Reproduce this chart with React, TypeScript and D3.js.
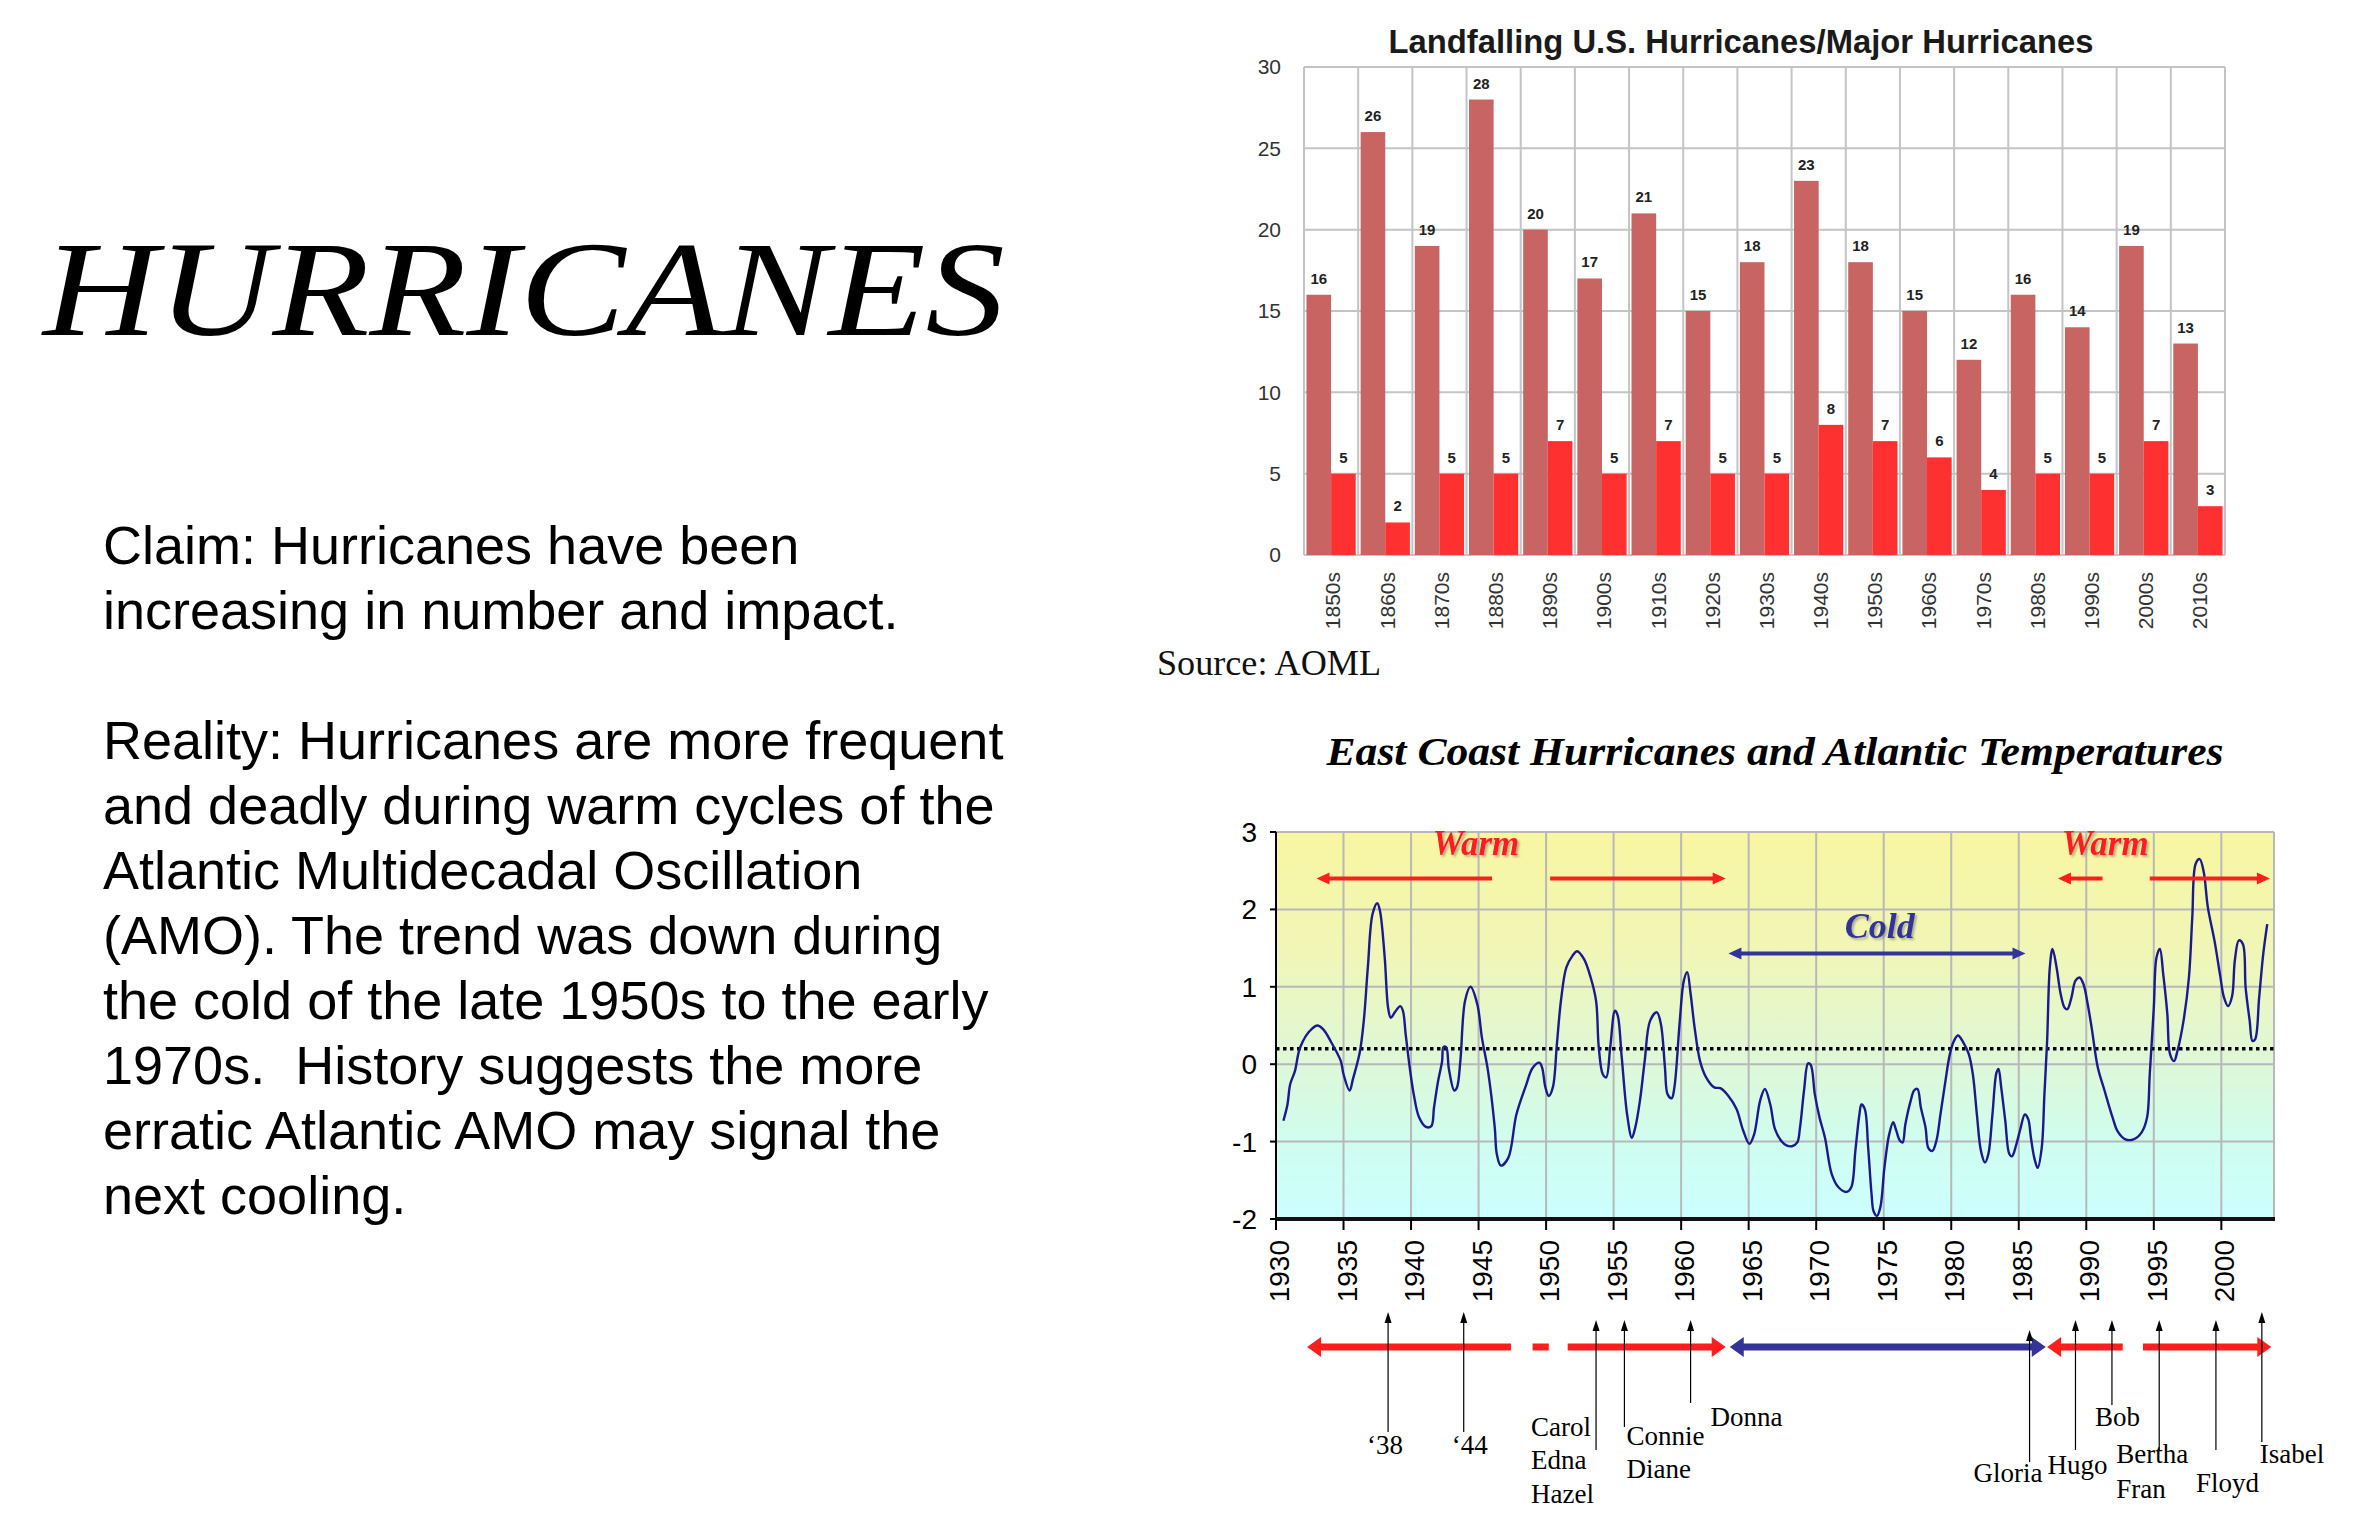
import React, { useEffect } from 'react';
import * as d3 from 'd3';

// ---------- Top chart data ----------
const decades = ['1850s','1860s','1870s','1880s','1890s','1900s','1910s','1920s','1930s','1940s','1950s','1960s','1970s','1980s','1990s','2000s','2010s'];
const allHurricanes = [16,26,19,28,20,17,21,15,18,23,18,15,12,16,14,19,13];
const majorHurricanes = [5,2,5,5,7,5,7,5,5,8,7,6,4,5,5,7,3];
const countTicks = [0,5,10,15,20,25,30];

// ---------- Bottom chart data (AMO) ----------
const amoYears = [
  1930.55,1930.85,1931.05,1931.4,1931.7,1932.0,1932.4,1933.05,1933.5,1934.1,1934.8,1935.0,1935.45,1935.7,1936.2,1936.5,1936.8,1937.15,1937.5,1937.7,
  1938.05,1938.3,1938.5,1938.8,1939.2,1939.4,1939.6,1939.9,1940.2,1940.6,1941.1,1941.5,1941.7,1942.0,1942.3,1942.4,1942.6,1942.8,1943.2,1943.4,
  1943.65,1944.0,1944.4,1944.9,1945.25,1945.7,1946.2,1946.35,1946.65,1947.2,1947.8,1948.5,1949.0,1949.5,1949.7,1949.95,1950.2,1950.5,1950.8,1951.1,
  1951.5,1951.95,1952.3,1952.8,1953.3,1953.7,1953.9,1954.2,1954.45,1954.75,1955.1,1955.3,1955.6,1956.0,1956.35,1956.6,1956.95,1957.3,1957.7,1958.2,
  1958.5,1958.8,1959.0,1959.3,1959.5,1959.9,1960.2,1960.45,1960.7,1961.0,1961.4,1961.85,1962.45,1962.9,1963.5,1964.1,1964.6,1965.05,1965.4,1965.85,
  1966.2,1966.6,1966.95,1967.45,1967.8,1968.2,1968.6,1968.8,1969.1,1969.4,1969.6,1969.9,1970.25,1970.65,1971.15,1971.65,1972.25,1972.6,1972.9,1973.2,
  1973.35,1973.6,1973.85,1974.1,1974.25,1974.5,1974.75,1975.05,1975.4,1975.7,1975.9,1976.2,1976.4,1976.6,1977.0,1977.25,1977.5,1977.75,1978.1,1978.3,
  1978.6,1978.9,1979.2,1979.5,1979.9,1980.2,1980.5,1980.9,1981.3,1981.6,1981.9,1982.2,1982.5,1982.75,1983.05,1983.35,1983.5,1983.7,1984.0,1984.3,
  1984.5,1984.8,1985.1,1985.45,1985.7,1985.9,1986.15,1986.4,1986.7,1986.9,1987.1,1987.3,1987.5,1987.8,1988.1,1988.4,1988.6,1988.9,1989.2,1989.5,
  1989.8,1990.1,1990.4,1990.85,1991.35,1991.95,1992.3,1992.9,1993.5,1994.1,1994.5,1994.7,1995.0,1995.2,1995.45,1995.7,1996.0,1996.2,1996.5,1996.75,
  1997.2,1997.6,1997.85,1998.1,1998.4,1998.7,1999.0,1999.5,1999.9,2000.2,2000.5,2000.8,2001.0,2001.3,2001.6,2001.8,2002.1,2002.3,2002.5,2002.8,
  2003.1,2003.4
];
const amoValues = [
  -0.73,-0.52,-0.26,-0.09,0.17,0.30,0.41,0.50,0.45,0.28,0.04,-0.13,-0.34,-0.19,0.15,0.56,1.25,1.94,2.08,1.98,
  1.38,0.73,0.60,0.67,0.75,0.69,0.39,-0.04,-0.39,-0.69,-0.81,-0.80,-0.56,-0.22,0.04,0.22,0.22,-0.06,-0.34,-0.30,
  0.04,0.82,1.00,0.78,0.34,-0.09,-0.82,-1.16,-1.31,-1.21,-0.65,-0.28,-0.05,0.02,-0.04,-0.30,-0.41,-0.30,0.26,0.82,
  1.25,1.40,1.46,1.36,1.12,0.82,0.22,-0.13,-0.17,0.22,0.69,0.63,0.09,-0.65,-0.95,-0.82,-0.47,0.04,0.56,0.67,
  0.52,-0.04,-0.39,-0.44,-0.30,0.56,1.08,1.19,0.91,0.47,0.04,-0.17,-0.30,-0.31,-0.41,-0.58,-0.86,-1.03,-0.91,-0.47,
  -0.32,-0.52,-0.84,-1.00,-1.05,-1.06,-1.01,-0.82,-0.34,0.01,-0.01,-0.39,-0.69,-0.95,-1.42,-1.59,-1.65,-1.59,-1.12,-0.65,
  -0.52,-0.58,-1.08,-1.68,-1.90,-1.96,-1.85,-1.34,-0.91,-0.75,-0.84,-0.99,-1.01,-0.78,-0.47,-0.34,-0.32,-0.56,-0.82,-1.08,
  -1.12,-0.99,-0.65,-0.30,0.13,0.30,0.37,0.28,0.13,-0.13,-0.65,-1.12,-1.27,-1.16,-0.65,-0.11,-0.06,-0.30,-0.73,-1.16,
  -1.19,-1.05,-0.85,-0.65,-0.71,-0.95,-1.21,-1.34,-1.08,-0.39,0.30,1.25,1.49,1.25,0.91,0.73,0.71,0.86,1.08,1.12,
  1.03,0.78,0.47,-0.04,-0.34,-0.69,-0.86,-0.97,-0.97,-0.88,-0.69,-0.13,0.73,1.38,1.49,1.16,0.65,0.13,0.04,0.17,
  0.56,1.12,1.90,2.59,2.65,2.48,2.03,1.59,1.16,0.86,0.75,0.88,1.34,1.60,1.55,0.99,0.56,0.30,0.32,0.86,
  1.42,1.81
];
const amoTicks = [-2,-1,0,1,2,3];
const yearTicks = [1930,1935,1940,1945,1950,1955,1960,1965,1970,1975,1980,1985,1990,1995,2000];
const referenceLevel = 0.2;

// Warm / cold phase arrows inside the plot (years)
const warmArrowStarts = [1946.0, 1950.3, 1991.2, 1994.7];
const warmArrowEnds = [1933.0, 1963.3, 1987.9, 2003.6];
const coldArrowSpan = [1963.5, 1985.5];

// Phase bar below the axis (years)
const phaseStarts = [1932.3, 1949.0, 1951.6, 1963.6, 1987.1, 1994.2];
const phaseEnds = [1947.4, 1950.2, 1963.3, 1987.0, 1992.7, 2003.7];
const phaseKinds = ['warm','warm','warm','cold','warm','warm'];
const phaseHeads = ['start','none','end','both','start','end'];

// Storms
const stormYears = [1938.3, 1943.9, 1953.7, 1955.8, 1960.7, 1985.8, 1989.2, 1991.9, 1995.4, 1999.6, 2003.0];
const stormNames = [['\u201838'],['\u201844'],['Carol','Edna','Hazel'],['Connie','Diane'],['Donna'],['Gloria'],['Hugo'],['Bob'],['Bertha','Fran'],['Floyd'],['Isabel']];

const bodyLines = [
  'Claim: Hurricanes have been',
  'increasing in number and impact.',
  '',
  'Reality: Hurricanes are more frequent',
  'and deadly during warm cycles of the',
  'Atlantic Multidecadal Oscillation',
  '(AMO). The trend was down during',
  'the cold of the late 1950s to the early',
  '1970s.  History suggests the more',
  'erratic Atlantic AMO may signal the',
  'next cooling.'
];

const SANS = "'Liberation Sans', Arial, Helvetica, sans-serif";
const NARROW = "'Liberation Sans Narrow', 'Arial Narrow', 'Liberation Sans', sans-serif";
const SERIF = "'Liberation Serif', 'Times New Roman', serif";

const RED = '#FF1E1E';
const NAVY = '#333399';

// storm annotation layout (pixel layout only)
const stormLayout = [
  { top: 1312, bottom: 1432, dx: -3, anchor: 'middle', baselines: [1454] },
  { top: 1312, bottom: 1432, dx: 6, anchor: 'middle', baselines: [1454] },
  { top: 1320, bottom: 1450, dx: -65, anchor: 'start', baselines: [1436, 1469, 1503] },
  { top: 1320, bottom: 1427, dx: 2, anchor: 'start', baselines: [1445, 1478] },
  { top: 1320, bottom: 1403, dx: 20, anchor: 'start', baselines: [1426] },
  { top: 1330, bottom: 1462, dx: -56, anchor: 'start', baselines: [1482] },
  { top: 1320, bottom: 1450, dx: -28, anchor: 'start', baselines: [1474] },
  { top: 1320, bottom: 1405, dx: -17, anchor: 'start', baselines: [1426] },
  { top: 1320, bottom: 1450, dx: -43, anchor: 'start', baselines: [1463, 1498] },
  { top: 1320, bottom: 1450, dx: -20, anchor: 'start', baselines: [1492] },
  { top: 1312, bottom: 1442, dx: -2, anchor: 'start', baselines: [1463] },
];

function thickArrow(x1: number, x2: number, y: number, w: number, hl: number, hh: number, headStart: boolean, headEnd: boolean) {
  const a = headStart ? x1 + hl : x1;
  const b = headEnd ? x2 - hl : x2;
  const pts: [number, number][] = [];
  if (headStart) {
    pts.push([x1, y], [a, y - hh], [a, y - w / 2]);
  } else {
    pts.push([a, y - w / 2]);
  }
  if (headEnd) {
    pts.push([b, y - w / 2], [b, y - hh], [x2, y], [b, y + hh], [b, y + w / 2]);
  } else {
    pts.push([b, y - w / 2], [b, y + w / 2]);
  }
  if (headStart) {
    pts.push([a, y + w / 2], [a, y + hh]);
  } else {
    pts.push([a, y + w / 2]);
  }
  return 'M' + pts.map(p => p[0] + ',' + p[1]).join('L') + 'Z';
}

export default function App() {
  useEffect(() => {
    document.body.style.margin = '0';
    document.body.style.overflow = 'hidden';
  }, []);

  // ----- top chart scales -----
  const tLeft = 1304, tRight = 2225, tTop = 67, tBottom = 555;
  const x0 = d3.scaleBand<string>().domain(decades).range([tLeft, tRight]);
  const x1 = d3.scaleBand<string>().domain(['all', 'major']).range([0, x0.bandwidth()]).paddingOuter(0.1);
  const yT = d3.scaleLinear().domain([0, 30]).range([tBottom, tTop]);

  // ----- bottom chart scales -----
  const bLeft = 1276, bRight = 2274, bTop = 832, bBottom = 1219;
  const xB = d3.scaleLinear().domain([1930, 2003.9]).range([bLeft, bRight]);
  const yB = d3.scaleLinear().domain([-2, 3]).range([bBottom, bTop]);
  const line = d3.line<number>()
    .x((_, i) => xB(amoYears[i]))
    .y(d => yB(d))
    .curve(d3.curveCatmullRom.alpha(0.5));

  const gridColor = '#C4C4C4';

  return (
    <svg width={2372} height={1522} style={{ position: 'absolute', left: 0, top: 0, background: '#fff' }}>
      <defs>
        <linearGradient id="amoBg" x1="0" y1="0" x2="0" y2="1">
          <stop offset="0" stopColor="#F8F6A0" />
          <stop offset="0.3" stopColor="#F1F6B6" />
          <stop offset="0.6" stopColor="#DEF8D8" />
          <stop offset="0.8" stopColor="#CFFDEE" />
          <stop offset="1" stopColor="#CCFFFF" />
        </linearGradient>
        <filter id="shadow" x="-20%" y="-30%" width="140%" height="170%">
          <feDropShadow dx="2" dy="2" stdDeviation="1.2" floodColor="#777" floodOpacity="0.55" />
        </filter>
      </defs>

      {/* ---------- Left text ---------- */}
      <text x={43} y={335} fontFamily={SERIF} fontStyle="italic" fontSize={135} textLength={962} lengthAdjust="spacingAndGlyphs" fill="#000">HURRICANES</text>
      {bodyLines.map((l, i) => {
        const base = i < 2 ? 564 + i * 65 : 759 + (i - 3) * 65;
        return l ? <text key={i} x={103} y={base} fontFamily={SANS} fontSize={54} fill="#000" style={{ whiteSpace: 'pre' }}>{l}</text> : null;
      })}

      {/* ---------- Top chart ---------- */}
      <text x={1741} y={53} textAnchor="middle" fontFamily={NARROW} fontWeight="bold" fontSize={33} textLength={705} lengthAdjust="spacingAndGlyphs" fill="#1a1a1a">Landfalling U.S. Hurricanes/Major Hurricanes</text>
      {countTicks.map(t => (
        <g key={t}>
          <line x1={tLeft} x2={tRight} y1={yT(t)} y2={yT(t)} stroke={gridColor} strokeWidth={2} />
          <text x={1281} y={yT(t)} dy="0.35em" textAnchor="end" fontFamily={NARROW} fontSize={21} fill="#333">{t}</text>
        </g>
      ))}
      {decades.map(d => (
        <line key={d} x1={x0(d)!} x2={x0(d)!} y1={tTop} y2={tBottom} stroke={gridColor} strokeWidth={2} />
      ))}
      <line x1={tRight} x2={tRight} y1={tTop} y2={tBottom} stroke={gridColor} strokeWidth={2} />
      {decades.map((d, i) => {
        const gx = x0(d)!;
        const xa = gx + x1('all')!;
        const xm = gx + x1('major')!;
        const bw = x1.bandwidth();
        return (
          <g key={d}>
            <rect x={xa} y={yT(allHurricanes[i])} width={bw} height={tBottom - yT(allHurricanes[i])} fill="#C86563" />
            <rect x={xm} y={yT(majorHurricanes[i])} width={bw} height={tBottom - yT(majorHurricanes[i])} fill="#FF3030" />
            <text x={xa + bw / 2} y={yT(allHurricanes[i]) - 11} textAnchor="middle" fontFamily={NARROW} fontWeight="bold" fontSize={15} fill="#222">{allHurricanes[i]}</text>
            <text x={xm + bw / 2} y={yT(majorHurricanes[i]) - 11} textAnchor="middle" fontFamily={NARROW} fontWeight="bold" fontSize={15} fill="#222">{majorHurricanes[i]}</text>
            <text transform={`translate(${gx + x0.bandwidth() / 2 + 2},572) rotate(-90)`} dy="0.35em" textAnchor="end" fontFamily={SANS} fontSize={21} fill="#333">{d}</text>
          </g>
        );
      })}
      <text x={1157} y={675} fontFamily={SERIF} fontSize={35} textLength={224} lengthAdjust="spacingAndGlyphs" fill="#111">Source: AOML</text>

      {/* ---------- Bottom chart ---------- */}
      <text x={1775} y={765} textAnchor="middle" fontFamily={SERIF} fontStyle="italic" fontWeight="bold" fontSize={41} textLength={897} lengthAdjust="spacingAndGlyphs" fill="#000">East Coast Hurricanes and Atlantic Temperatures</text>
      <rect x={bLeft} y={bTop} width={bRight - bLeft} height={bBottom - bTop} fill="url(#amoBg)" />
      {yearTicks.map(t => (
        <line key={t} x1={xB(t)} x2={xB(t)} y1={bTop} y2={bBottom} stroke="#B8B8B8" strokeWidth={2} />
      ))}
      {amoTicks.map(t => (
        <line key={t} x1={bLeft} x2={bRight} y1={yB(t)} y2={yB(t)} stroke="#B8B8B8" strokeWidth={2} />
      ))}
      <line x1={bRight} x2={bRight} y1={bTop} y2={bBottom} stroke="#B8B8B8" strokeWidth={2} />
      <line x1={bLeft} x2={bRight} y1={yB(referenceLevel)} y2={yB(referenceLevel)} stroke="#000" strokeWidth={3.5} strokeDasharray="3.5 3.5" />
      <path d={line(amoValues) || ''} fill="none" stroke="#1A1A8C" strokeWidth={2.4} />

      {/* axes */}
      <line x1={bLeft} x2={bLeft} y1={bTop} y2={bBottom + 1} stroke="#000" strokeWidth={2} />
      <line x1={bLeft - 1} x2={bRight + 1} y1={bBottom} y2={bBottom} stroke="#111" strokeWidth={4} />
      {amoTicks.map(t => (
        <g key={t}>
          <line x1={bLeft - 6} x2={bLeft} y1={yB(t)} y2={yB(t)} stroke="#000" strokeWidth={2} />
          <text x={1257} y={yB(t)} dy="0.36em" textAnchor="end" fontFamily={NARROW} fontSize={28} fill="#000">{t}</text>
        </g>
      ))}
      {yearTicks.map(t => (
        <g key={t}>
          <line x1={xB(t)} x2={xB(t)} y1={bBottom} y2={bBottom + 11} stroke="#000" strokeWidth={2} />
          <text transform={`translate(${xB(t) + 3},1240) rotate(-90)`} dy="0.36em" textAnchor="end" fontFamily={SANS} fontSize={28} fill="#000">{t}</text>
        </g>
      ))}

      {/* warm / cold arrows in plot */}
      {warmArrowStarts.map((s, i) => {
        const e = warmArrowEnds[i];
        const y = yB(2.4);
        const forward = e > s;
        const xs = Math.min(xB(s), xB(e));
        const xe = Math.max(xB(s), xB(e));
        return <path key={i} d={thickArrow(xs, xe, y, 4, 13, 6, !forward, forward)} fill={RED} />;
      })}
      <path d={thickArrow(xB(coldArrowSpan[0]), xB(coldArrowSpan[1]), yB(1.43), 4, 13, 6, true, true)} fill={NAVY} />
      <g filter="url(#shadow)">
        <text x={xB(1944.8)} y={yB(2.7)} textAnchor="middle" fontFamily={SERIF} fontStyle="italic" fontWeight="bold" fontSize={35} fill={RED}>Warm</text>
        <text x={xB(1991.4)} y={yB(2.7)} textAnchor="middle" fontFamily={SERIF} fontStyle="italic" fontWeight="bold" fontSize={35} fill={RED}>Warm</text>
        <text x={xB(1974.7)} y={yB(1.63)} textAnchor="middle" fontFamily={SERIF} fontStyle="italic" fontWeight="bold" fontSize={36} fill={NAVY}>Cold</text>
      </g>

      {/* phase bar */}
      {phaseStarts.map((s, i) => (
        <path key={i}
          d={thickArrow(xB(s), xB(phaseEnds[i]), 1347, 7, 14, 10,
            phaseHeads[i] === 'start' || phaseHeads[i] === 'both',
            phaseHeads[i] === 'end' || phaseHeads[i] === 'both')}
          fill={phaseKinds[i] === 'warm' ? RED : NAVY} />
      ))}

      {/* storms */}
      {stormYears.map((yr, i) => {
        const L = stormLayout[i];
        const x = xB(yr);
        return (
          <g key={i}>
            <line x1={x} x2={x} y1={L.top + 8} y2={L.bottom} stroke="#000" strokeWidth={1.2} />
            <path d={`M${x},${L.top}L${x - 3.5},${L.top + 11}L${x + 3.5},${L.top + 11}Z`} fill="#000" />
            {stormNames[i].map((n, j) => (
              <text key={j} x={x + L.dx} y={L.baselines[j]} textAnchor={L.anchor as any} fontFamily={SERIF} fontSize={27} fill="#000">{n}</text>
            ))}
          </g>
        );
      })}
    </svg>
  );
}
